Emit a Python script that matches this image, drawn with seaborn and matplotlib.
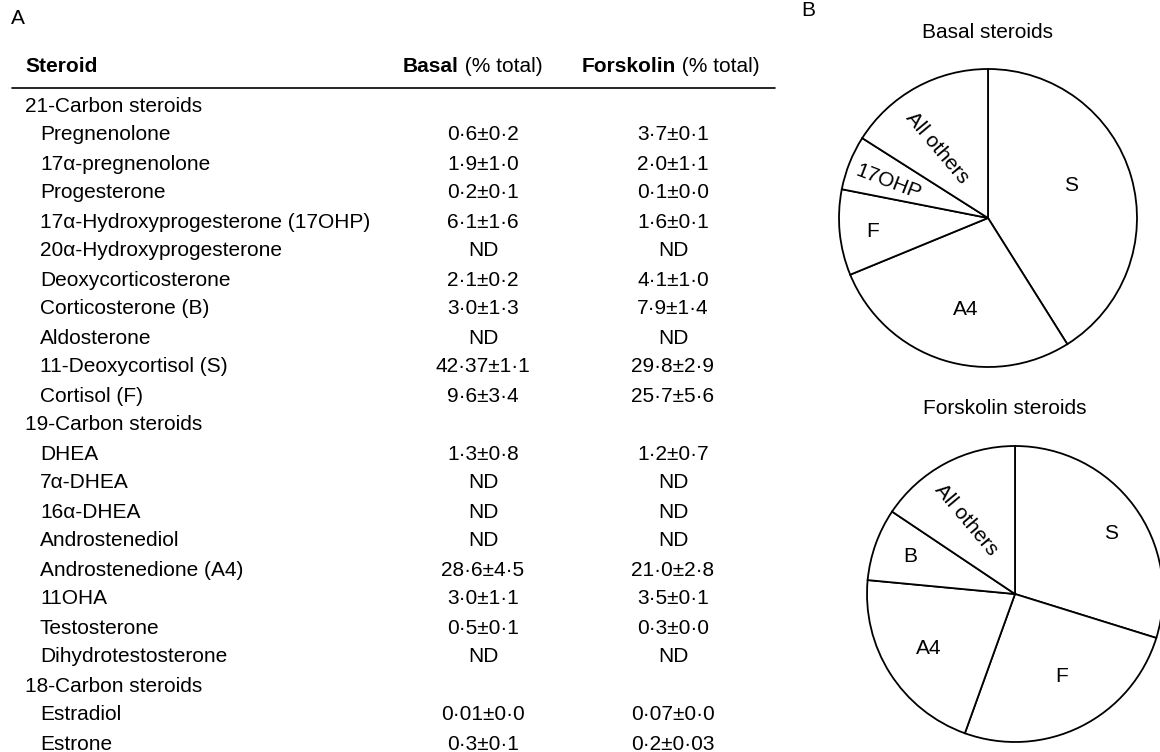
import matplotlib
matplotlib.use("Agg")
import matplotlib.pyplot as plt
import seaborn as sns
import numpy as np

sns.set_theme(style="white")
plt.rcParams['font.family'] = ['Liberation Sans', 'DejaVu Sans']
plt.rcParams['text.color'] = 'black'

# -- table data (panel A) --
steroid_names = [
    "21-Carbon steroids", "Pregnenolone", "17\u03b1-pregnenolone", "Progesterone",
    "17\u03b1-Hydroxyprogesterone (17OHP)", "20\u03b1-Hydroxyprogesterone",
    "Deoxycorticosterone", "Corticosterone (B)", "Aldosterone",
    "11-Deoxycortisol (S)", "Cortisol (F)",
    "19-Carbon steroids", "DHEA", "7\u03b1-DHEA", "16\u03b1-DHEA", "Androstenediol",
    "Androstenedione (A4)", "11OHA", "Testosterone", "Dihydrotestosterone",
    "18-Carbon steroids", "Estradiol", "Estrone",
]
is_group = [True, False, False, False, False, False, False, False, False, False, False,
            True, False, False, False, False, False, False, False, False,
            True, False, False]
basal_text = [
    "", "0\u00b76\u00b10\u00b72", "1\u00b79\u00b11\u00b70", "0\u00b72\u00b10\u00b71",
    "6\u00b71\u00b11\u00b76", "ND", "2\u00b71\u00b10\u00b72", "3\u00b70\u00b11\u00b73", "ND",
    "42\u00b737\u00b11\u00b71", "9\u00b76\u00b13\u00b74",
    "", "1\u00b73\u00b10\u00b78", "ND", "ND", "ND", "28\u00b76\u00b14\u00b75",
    "3\u00b70\u00b11\u00b71", "0\u00b75\u00b10\u00b71", "ND",
    "", "0\u00b701\u00b10\u00b70", "0\u00b73\u00b10\u00b71",
]
forskolin_text = [
    "", "3\u00b77\u00b10\u00b71", "2\u00b70\u00b11\u00b71", "0\u00b71\u00b10\u00b70",
    "1\u00b76\u00b10\u00b71", "ND", "4\u00b71\u00b11\u00b70", "7\u00b79\u00b11\u00b74", "ND",
    "29\u00b78\u00b12\u00b79", "25\u00b77\u00b15\u00b76",
    "", "1\u00b72\u00b10\u00b77", "ND", "ND", "ND", "21\u00b70\u00b12\u00b78",
    "3\u00b75\u00b10\u00b71", "0\u00b73\u00b10\u00b70", "ND",
    "", "0\u00b707\u00b10\u00b70", "0\u00b72\u00b10\u00b703",
]

# -- pie data (panel B) --
basal_slices = ["S", "A4", "F", "17OHP", "All others"]
basal_share = [42.37, 28.6, 9.6, 6.1, 16.5]
forsk_slices = ["S", "F", "A4", "B", "All others"]
forsk_share = [29.8, 25.7, 21.0, 7.9, 15.6]

FS = 15
W, H = 1160, 752
fig = plt.figure(figsize=(W / 100, H / 100), dpi=100)
fig.patch.set_facecolor("white")

# full-figure axes in pixel units for the table
tab = fig.add_axes([0, 0, 1, 1])
tab.set_xlim(0, W)
tab.set_ylim(H, 0)
tab.axis("off")

tab.text(18, 19, "A", fontsize=FS, ha="center", va="center")
tab.text(808, 11, "B", fontsize=FS, ha="center", va="center")

renderer = fig.canvas.get_renderer()


def bold_header(x, y, bold, rest):
    t = tab.text(x, y, bold, fontsize=FS, fontweight="bold", ha="left", va="baseline")
    w = t.get_window_extent(renderer).width
    tab.text(x + w, y, rest, fontsize=FS, ha="left", va="baseline")


tab.text(25, 72, "Steroid", fontsize=FS, fontweight="bold", ha="left", va="baseline")
bold_header(403, 72, "Basal", " (% total)")
bold_header(582, 72, "Forskolin", " (% total)")
tab.plot([12, 775], [88, 88], color="black", lw=1.2)

row0, step = 104, 29.0
for i, name in enumerate(steroid_names):
    base = row0 + i * step + 7.5
    x = 25 if is_group[i] else 40
    tab.text(x, base, name, fontsize=FS, ha="left", va="baseline")
    if basal_text[i]:
        tab.text(483, base, basal_text[i], fontsize=FS, ha="center", va="baseline")
    if forskolin_text[i]:
        tab.text(673, base, forskolin_text[i], fontsize=FS, ha="center", va="baseline")


def draw_pie(cx, cy, r, shares, names, title, title_xy, lab_r, lab_dang, lab_rot):
    ax = fig.add_axes([(cx - r) / W, (H - cy - r) / H, 2 * r / W, 2 * r / H])
    wedges, _ = ax.pie(shares, startangle=90, counterclock=False,
                       colors=["white"] * len(shares),
                       wedgeprops=dict(edgecolor="black", linewidth=1.3))
    for w, name, rr, da, rot in zip(wedges, names, lab_r, lab_dang, lab_rot):
        mid = np.deg2rad((w.theta1 + w.theta2) / 2 + da)
        ax.text(rr * np.cos(mid), rr * np.sin(mid), name, fontsize=FS,
                ha="center", va="center", rotation=rot, rotation_mode="anchor")
    ax.set_xlim(-1, 1)
    ax.set_ylim(-1, 1)
    ax.set_aspect("equal")
    ax.axis("off")
    tab.text(title_xy[0], title_xy[1], title, fontsize=FS, ha="center", va="center")


draw_pie(988, 218, 149, basal_share, basal_slices, "Basal steroids", (988, 33),
         [0.6, 0.63, 0.78, 0.71, 0.58], [5, 4, 1, 2, 7], [0, 0, 0, -21, -50])
draw_pie(1015, 594, 148, forsk_share, forsk_slices, "Forskolin steroids", (1005, 408),
         [0.77, 0.64, 0.69, 0.75, 0.6], [-4, 3, 0, 0, 5], [0, 0, 0, 0, -50])

fig.savefig("out.png", dpi=100, facecolor="white")
